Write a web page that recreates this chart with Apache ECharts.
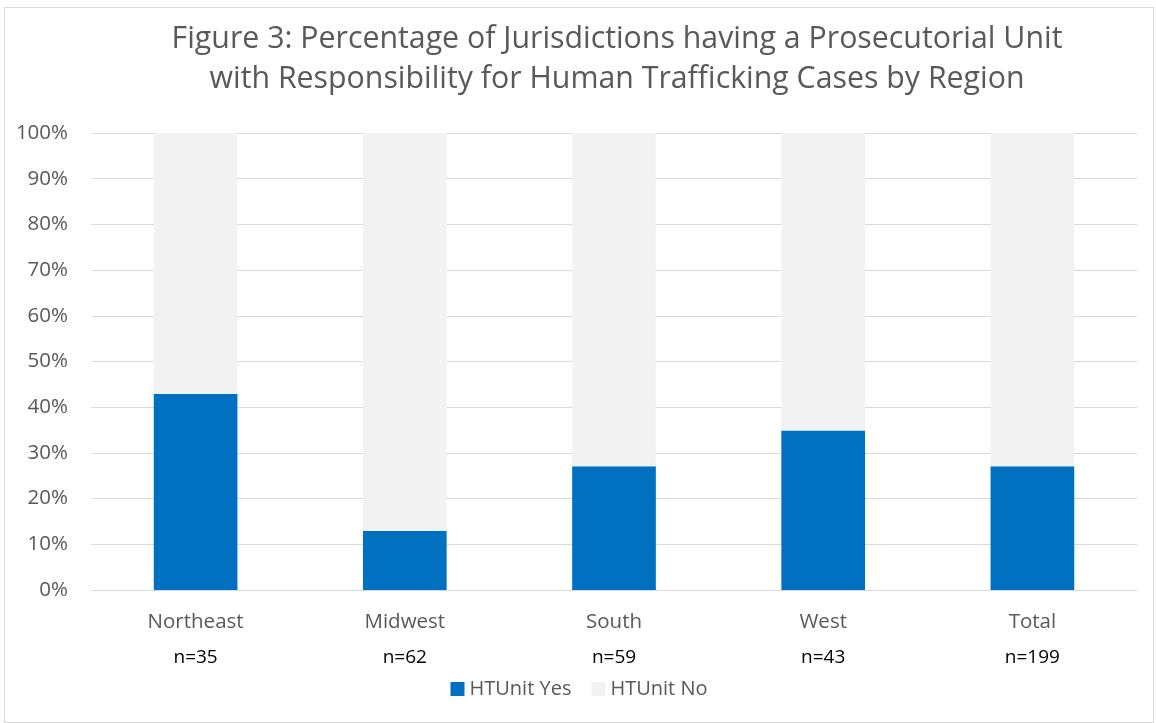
<!DOCTYPE html>
<html><head><meta charset="utf-8">
<script src="https://cdn.jsdelivr.net/npm/echarts@6/dist/echarts.min.js"></script>
<style>
html,body{margin:0;padding:0;background:#fff;}
#wrap{position:absolute;left:4px;top:7px;width:1150px;height:716px;border:1px solid #d9d9d9;box-sizing:border-box;background:#fff;}
#c{width:100%;height:100%;}
</style></head>
<body><div id="wrap"><div id="c"></div></div>
<script>
const categories = ['Northeast','Midwest','South','West','Total'];
const nLabels = ['n=35','n=62','n=59','n=43','n=199'];
const htUnitYes = [42.9, 12.9, 27.1, 34.9, 27.1];
const htUnitNo = [57.1, 87.1, 72.9, 65.1, 72.9];
const yTicks = [0,10,20,30,40,50,60,70,80,90,100];

const FONT = '"Open Sans", "Noto Sans", sans-serif';
const chart = echarts.init(document.getElementById('c'));
chart.setOption({
  animation:false,
  textStyle:{fontFamily:FONT},
  title:{
    text:'Figure 3: Percentage of Jurisdictions having a Prosecutorial Unit\nwith Responsibility for Human Trafficking Cases by Region',
    left:607, top:6, textAlign:'center',
    textStyle:{fontFamily:FONT,fontSize:30.3,fontWeight:'normal',color:'#595959',lineHeight:40}
  },
  legend:{
    bottom:18, left:'center', itemWidth:14, itemHeight:14, itemGap:20,
    icon:'rect',
    textStyle:{fontFamily:FONT,fontSize:20,color:'#595959'},
    data:['HTUnit Yes','HTUnit No']
  },
  grid:{left:86,right:16,top:125,bottom:132},
  xAxis:{
    type:'category', data:categories,
    axisLine:{lineStyle:{color:'#d9d9d9',width:1}},
    axisTick:{show:false},
    axisLabel:{
      margin:14,
      formatter:(v,i)=>'{c|'+v+'}\n{n|'+nLabels[i]+'}',
      rich:{
        c:{fontFamily:FONT,fontSize:20.5,color:'#595959',lineHeight:36},
        n:{fontFamily:FONT,fontSize:19,color:'#000',lineHeight:36}
      }
    }
  },
  yAxis:{
    type:'value', min:0, max:100, interval:10,
    axisLine:{show:false}, axisTick:{show:false},
    splitLine:{lineStyle:{color:'#d9d9d9',width:1}},
    axisLabel:{fontFamily:FONT,fontSize:20.5,color:'#595959',margin:23,
      formatter:v=>yTicks.includes(v)?v+'%':''}
  },
  series:[
    {name:'HTUnit Yes',type:'bar',stack:'a',data:htUnitYes,barWidth:'40%',itemStyle:{color:'#0070C0'}},
    {name:'HTUnit No',type:'bar',stack:'a',data:htUnitNo,barWidth:'40%',itemStyle:{color:'#F2F2F2'}}
  ]
});
</script></body></html>
